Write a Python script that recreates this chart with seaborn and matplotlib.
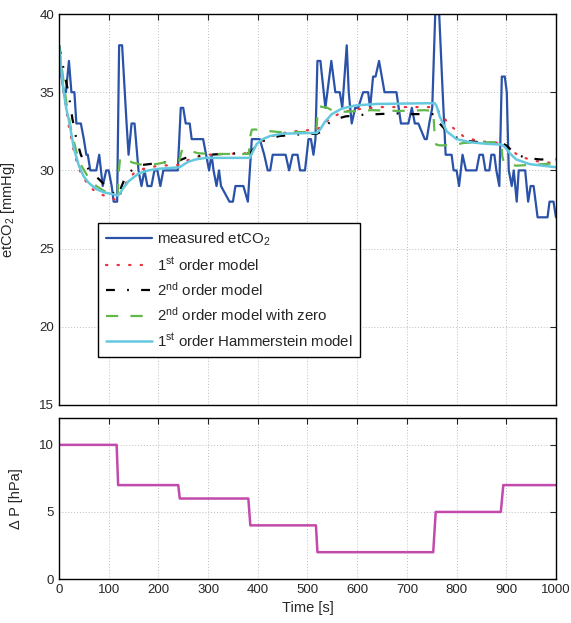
import numpy as np
import pandas as pd
import matplotlib
matplotlib.use("Agg")
import matplotlib.pyplot as plt
import seaborn as sns

# measured end-tidal CO2 (mmHg)
meas_t = [0, 5, 10, 14, 20, 25, 31, 35, 44, 50, 55, 58, 63, 70, 75, 81, 88, 95, 100,
          106, 110, 117, 121, 127, 136, 140, 146, 152, 160, 166, 172, 178, 186, 192,
          198, 204, 210, 239, 245, 250, 255, 263, 267, 290, 296, 302, 307, 311, 317,
          322, 326, 343, 350, 355, 371, 380, 388, 404, 413, 420, 425, 430, 456, 463,
          470, 480, 485, 495, 502, 507, 512, 516, 520, 526, 536, 548, 556, 565, 570,
          579, 583, 589, 596, 602, 612, 622, 626, 632, 637, 644, 655, 679, 688, 703,
          710, 716, 723, 736, 740, 745, 751, 757, 765, 772, 778, 790, 794, 800, 805,
          812, 819, 840, 846, 853, 858, 866, 870, 876, 880, 886, 891, 897, 901, 905,
          911, 915, 921, 925, 938, 944, 949, 955, 963, 983, 987, 995, 1000]
meas_v = [38, 36, 35, 35, 37, 35, 35, 33, 33, 32, 31, 31, 30, 30, 30, 31, 29, 30, 30,
          29, 28, 28, 38, 38, 33, 31, 33, 33, 30, 29, 30, 29, 29, 30,
          30, 29, 30, 30, 34, 34, 33, 33, 32, 32, 31, 30, 31, 30, 29,
          30, 29, 28, 28, 29, 29, 28, 32, 32, 31, 30, 30, 31, 31, 30,
          31, 31, 30, 30, 32, 32, 31, 32, 37, 37, 34, 37, 35, 35, 34,
          38, 35, 33, 34, 34, 35, 35, 34, 36, 36, 37, 35, 35, 33, 33,
          34, 33, 33, 32, 32, 33, 34, 40, 40, 35, 31, 31, 30, 30, 29,
          31, 30, 30, 31, 31, 30, 30, 31, 31, 30, 29, 36, 36, 35, 30,
          29, 30, 28, 30, 30, 28, 29, 29, 27, 27, 28, 28, 27]

# 1st order model
fo_t = [0, 10, 20, 30, 40, 50, 60, 75, 90, 105, 119, 125, 135, 150, 170, 200, 243,
        255, 275, 300, 330, 384, 395, 410, 430, 460, 490, 519, 530, 545, 568, 596,
        650, 756, 766, 786, 813, 840, 867, 890, 905, 927, 957, 1000]
fo_v = [38, 34.8, 32.8, 31.2, 30.1, 29.5, 29.0, 28.6, 28.4, 28.2, 28.1, 28.6, 29.2,
        29.8, 30.1, 30.3, 30.35, 30.6, 30.85, 31.0, 31.05, 31.1, 31.5, 31.9, 32.2,
        32.45, 32.55, 32.6, 32.9, 33.3, 33.7, 33.9, 34.05, 34.05, 33.7, 32.9, 32.2,
        31.9, 31.8, 31.75, 31.4, 30.9, 30.6, 30.45]

# 2nd order model
so_t = [0, 11, 20, 27, 35, 44, 55, 61, 75, 88, 100, 111, 118, 125, 135, 150, 168,
        195, 232, 243, 255, 275, 300, 330, 364, 384, 390, 398, 420, 444, 484, 519,
        530, 545, 560, 576, 609, 643, 676, 710, 756, 766, 786, 813, 847, 890, 900,
        910, 925, 937, 968, 1000]
so_v = [38, 36.2, 34.8, 33.3, 32.0, 31.0, 30.3, 30.0, 29.6, 29.2, 28.8, 28.5, 28.35,
        28.9, 29.7, 30.1, 30.35, 30.45, 30.6, 30.65, 30.8, 30.9, 31.0, 31.05, 31.1,
        31.1, 31.3, 31.7, 32.0, 32.2, 32.3, 32.35, 32.5, 33.1, 33.3, 33.45, 33.55,
        33.6, 33.65, 33.6, 33.6, 33.0, 32.3, 31.9, 31.8, 31.75, 31.6, 31.3, 31.0,
        30.8, 30.7, 30.7]

# 2nd order model with zero
sz_t = [0, 8, 15, 25, 35, 45, 60, 75, 90, 105, 118, 120, 123, 135, 148, 168, 195,
        228, 242, 245, 248, 257, 280, 304, 350, 382, 385, 388, 394, 410, 444, 501,
        518, 520, 523, 540, 549, 576, 629, 683, 736, 753, 756, 759, 766, 793, 813,
        840, 890, 892, 895, 903, 920, 947, 974, 1000]
sz_v = [38, 36.0, 34.3, 32.5, 31.2, 30.3, 29.5, 29.0, 28.7, 28.5, 28.4, 29.8, 30.8,
        30.7, 30.5, 30.35, 30.4, 30.6, 30.62, 31.0, 31.35, 31.3, 31.1, 31.05, 31.05,
        31.05, 32.2, 32.6, 32.62, 32.55, 32.45, 32.45, 32.5, 33.6, 34.1, 34.0, 33.85,
        33.75, 33.85, 33.8, 33.85, 33.8, 32.2, 31.65, 31.6, 31.6, 31.75, 31.8, 31.8,
        30.9, 30.5, 30.4, 30.3, 30.35, 30.4, 30.45]

# 1st order Hammerstein model
hm_t = [0, 5, 10, 15, 20, 30, 40, 50, 60, 75, 90, 105, 118, 122, 130, 140, 160, 180,
        200, 243, 250, 260, 275, 295, 384, 390, 398, 410, 425, 450, 519, 525, 535,
        549, 569, 596, 640, 756, 760, 766, 780, 800, 827, 860, 890, 897, 907, 920,
        947, 1000]
hm_v = [38, 36.3, 34.9, 33.9, 33.2, 31.4, 30.3, 29.6, 29.2, 28.8, 28.6, 28.5, 28.4,
        28.5, 28.9, 29.3, 29.8, 30.0, 30.1, 30.2, 30.35, 30.55, 30.7, 30.8, 30.8,
        31.2, 31.7, 32.0, 32.2, 32.35, 32.4, 32.6, 33.1, 33.6, 33.95, 34.15, 34.25,
        34.3, 34.1, 33.45, 32.5, 32.0, 31.8, 31.7, 31.65, 31.5, 31.1, 30.7, 30.4, 30.2]

# pressure difference (hPa)
dp_t = [0, 116, 119, 240, 243, 381, 385, 517, 520, 753, 758, 889, 894, 1000]
dp_v = [10, 10, 7, 7, 6, 6, 4, 4, 2, 2, 5, 5, 7, 7]


def style_axes(ax):
    ax.grid(True, linestyle=(0, (1, 2)), color="#bdbdbd", linewidth=0.7)
    ax.set_axisbelow(True)
    ax.tick_params(direction="in", top=True, right=True, length=4, width=0.8,
                   labelsize=9.5)
    for sp in ax.spines.values():
        sp.set_visible(True)
        sp.set_color("black")
        sp.set_linewidth(1.0)


def main():
    sns.set_style("white")
    plt.rcParams["font.family"] = ["Liberation Sans", "DejaVu Sans"]
    plt.rcParams["mathtext.fontset"] = "custom"
    plt.rcParams["mathtext.rm"] = "Liberation Sans"
    plt.rcParams["mathtext.it"] = "Liberation Sans:italic"
    plt.rcParams["mathtext.bf"] = "Liberation Sans:bold"

    fig = plt.figure(figsize=(5.71, 6.23), dpi=100)
    ax1 = fig.add_axes([0.1033, 0.35, 0.8704, 0.6275])
    ax2 = fig.add_axes([0.1033, 0.0706, 0.8704, 0.2584])

    kw = dict(estimator=None, sort=False, legend=False)
    sns.lineplot(x=meas_t, y=meas_v, ax=ax1, color="#2a52a8", linewidth=1.6,
                 label="measured etCO$_2$", **kw)
    sns.lineplot(x=fo_t, y=fo_v, ax=ax1, color="#e8323c", linewidth=1.6,
                 linestyle=(0, (0.6, 4.6)), dash_capstyle="round",
                 label="1$^{\\mathrm{st}}$ order model", **kw)
    sns.lineplot(x=so_t, y=so_v, ax=ax1, color="black", linewidth=1.6,
                 linestyle=(0, (4, 5.5, 0.8, 5.5)),
                 label="2$^{\\mathrm{nd}}$ order model", **kw)
    sns.lineplot(x=sz_t, y=sz_v, ax=ax1, color="#62b84a", linewidth=1.6,
                 linestyle=(0, (5.5, 5.5)),
                 label="2$^{\\mathrm{nd}}$ order model with zero", **kw)
    sns.lineplot(x=hm_t, y=hm_v, ax=ax1, color="#66c8de", linewidth=1.8,
                 label="1$^{\\mathrm{st}}$ order Hammerstein model", **kw)

    ax1.set_xlim(0, 1000)
    ax1.set_ylim(15, 40)
    ax1.set_xticks(np.arange(0, 1001, 100))
    ax1.set_yticks(np.arange(15, 41, 5))
    ax1.set_xticklabels([])
    ax1.set_xlabel("")
    ax1.set_ylabel("etCO$_2$ [mmHg]", fontsize=10.5)
    ax1.yaxis.set_label_coords(-0.085, 0.5)
    style_axes(ax1)

    leg = ax1.legend(loc="upper left", bbox_to_anchor=(0.079, 0.465),
                     borderaxespad=0, fontsize=10.8, frameon=True, fancybox=False,
                     edgecolor="black", framealpha=1, handlelength=3.1,
                     handletextpad=0.3, labelspacing=0.5, borderpad=0.5)
    leg.get_frame().set_linewidth(1.0)

    sns.lineplot(x=dp_t, y=dp_v, ax=ax2, color="#c24aaa", linewidth=1.8, **kw)
    ax2.set_xlim(0, 1000)
    ax2.set_ylim(0, 12)
    ax2.set_xticks(np.arange(0, 1001, 100))
    ax2.set_yticks([0, 5, 10])
    ax2.set_xlabel("Time [s]", fontsize=10.5)
    ax2.set_ylabel("\u0394 P [hPa]", fontsize=10.5)
    ax2.yaxis.set_label_coords(-0.073, 0.5)
    style_axes(ax2)

    fig.savefig("out.png", dpi=100)


if __name__ == "__main__":
    main()
